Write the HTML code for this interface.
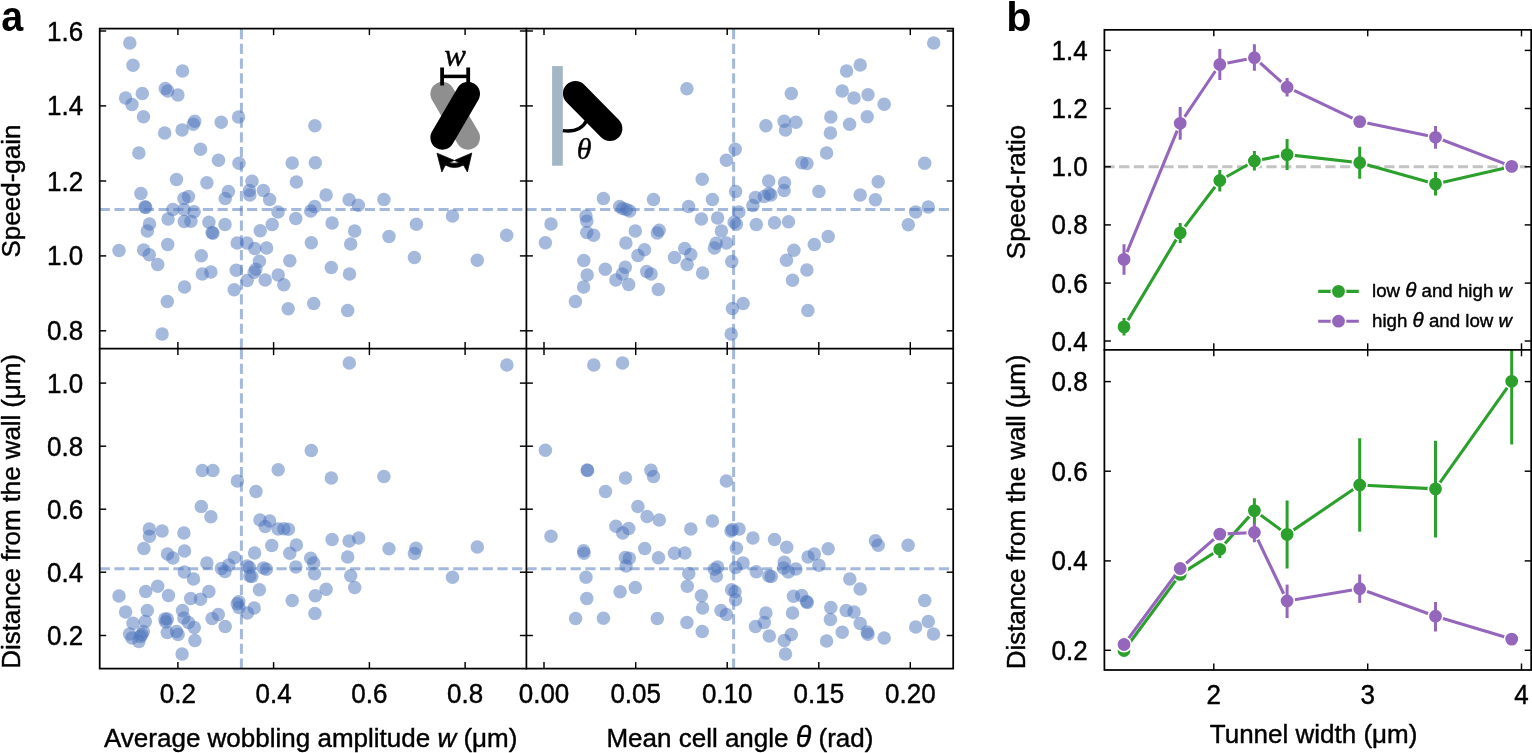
<!DOCTYPE html>
<html lang="en">
<head>
<meta charset="utf-8">
<title>Figure: speed-gain and wall distance</title>
<style>
html,body{margin:0;padding:0;background:#fff}
body{width:1532px;height:753px;overflow:hidden}
svg{display:block}
.pts circle{fill:#4b74bb;fill-opacity:.5}
.guide line{stroke:#4b74bb;stroke-opacity:.5;stroke-width:3.0;stroke-dasharray:10.2 4.53;fill:none}
.fr{stroke:#000;stroke-width:1.75;fill:none;stroke-linecap:square}
.tk{stroke:#000;stroke-width:1.45}
.ln{stroke-width:3.1;fill:none;stroke-linejoin:round}
.eb{stroke-width:3}
.mk{stroke:#fff;stroke-width:1.6}
text{font-family:"Liberation Sans", sans-serif;fill:#000;stroke:#000;stroke-width:.42px;stroke-linejoin:round}
.tl{font-size:26px}
.lg{font-size:18.7px}
.th{font-style:italic;font-size:1.1em}
.vd{letter-spacing:-.09px}
.pl{font-size:41.5px;font-weight:bold;stroke:none}
.it{font-style:italic}
.mi{font-family:"Liberation Serif", "DejaVu Serif", serif;font-style:italic}
</style>
</head>
<body>
<svg role="img" aria-label="Scatter plots of speed-gain and wall distance against wobbling amplitude and cell angle, and line plots against tunnel width" width="1532" height="753" viewBox="0 0 1532 753">
<rect width="1532" height="753" fill="#fff"/>
<defs>
<clipPath id="cTL"><rect x="99.7" y="28.6" width="426.7" height="320"/></clipPath>
<clipPath id="cTR"><rect x="526.4" y="28.6" width="426.8" height="320"/></clipPath>
<clipPath id="cBL"><rect x="99.7" y="348.6" width="426.7" height="320"/></clipPath>
<clipPath id="cBR"><rect x="526.4" y="348.6" width="426.8" height="320"/></clipPath>
<clipPath id="cbT"><rect x="1104.4" y="29.85" width="426.8" height="319.95"/></clipPath>
<clipPath id="cbB"><rect x="1104.4" y="349.8" width="426.8" height="320.2"/></clipPath>
</defs>
<g class="pts" clip-path="url(#cTL)">
<circle cx="129.8" cy="43" r="6.75"/>
<circle cx="133" cy="65.2" r="6.75"/>
<circle cx="182.5" cy="71.1" r="6.75"/>
<circle cx="165.3" cy="88.5" r="6.75"/>
<circle cx="167.7" cy="91.1" r="6.75"/>
<circle cx="177.9" cy="94.9" r="6.75"/>
<circle cx="142.3" cy="93.5" r="6.75"/>
<circle cx="125.6" cy="98.1" r="6.75"/>
<circle cx="132" cy="104.5" r="6.75"/>
<circle cx="143.5" cy="116.7" r="6.75"/>
<circle cx="194.7" cy="121.3" r="6.75"/>
<circle cx="193.3" cy="124.3" r="6.75"/>
<circle cx="221.2" cy="122.3" r="6.75"/>
<circle cx="238.6" cy="116.9" r="6.75"/>
<circle cx="182.1" cy="130.1" r="6.75"/>
<circle cx="164.7" cy="133.1" r="6.75"/>
<circle cx="314.9" cy="125.7" r="6.75"/>
<circle cx="138.9" cy="153" r="6.75"/>
<circle cx="200.5" cy="149.3" r="6.75"/>
<circle cx="218.5" cy="160.2" r="6.75"/>
<circle cx="239" cy="163.2" r="6.75"/>
<circle cx="292.2" cy="163" r="6.75"/>
<circle cx="315.3" cy="162.8" r="6.75"/>
<circle cx="176.5" cy="179.4" r="6.75"/>
<circle cx="206.9" cy="182.8" r="6.75"/>
<circle cx="252" cy="181.2" r="6.75"/>
<circle cx="296.4" cy="182" r="6.75"/>
<circle cx="140.9" cy="193.4" r="6.75"/>
<circle cx="228.4" cy="191.6" r="6.75"/>
<circle cx="249.4" cy="190.6" r="6.75"/>
<circle cx="249.8" cy="195" r="6.75"/>
<circle cx="263.4" cy="190.6" r="6.75"/>
<circle cx="269.6" cy="199.6" r="6.75"/>
<circle cx="188.5" cy="196.6" r="6.75"/>
<circle cx="183.9" cy="198.6" r="6.75"/>
<circle cx="225.2" cy="198.6" r="6.75"/>
<circle cx="326.1" cy="195" r="6.75"/>
<circle cx="349.1" cy="199.8" r="6.75"/>
<circle cx="358.3" cy="205.2" r="6.75"/>
<circle cx="383.9" cy="199.4" r="6.75"/>
<circle cx="145.1" cy="206.8" r="6.75"/>
<circle cx="145.7" cy="207.4" r="6.75"/>
<circle cx="172.9" cy="209.6" r="6.75"/>
<circle cx="184.1" cy="209.4" r="6.75"/>
<circle cx="194.1" cy="211.7" r="6.75"/>
<circle cx="314.7" cy="206.6" r="6.75"/>
<circle cx="310.7" cy="211" r="6.75"/>
<circle cx="278" cy="212.1" r="6.75"/>
<circle cx="168.1" cy="218.9" r="6.75"/>
<circle cx="184.3" cy="221.5" r="6.75"/>
<circle cx="190.9" cy="221.3" r="6.75"/>
<circle cx="208.9" cy="222.3" r="6.75"/>
<circle cx="225" cy="224.5" r="6.75"/>
<circle cx="295.8" cy="218.5" r="6.75"/>
<circle cx="332.1" cy="222.9" r="6.75"/>
<circle cx="272.2" cy="224.5" r="6.75"/>
<circle cx="149.5" cy="223.9" r="6.75"/>
<circle cx="147.3" cy="230.9" r="6.75"/>
<circle cx="212.1" cy="232.5" r="6.75"/>
<circle cx="212.9" cy="233.3" r="6.75"/>
<circle cx="260.2" cy="230.7" r="6.75"/>
<circle cx="354.7" cy="231.1" r="6.75"/>
<circle cx="389" cy="236.5" r="6.75"/>
<circle cx="167.7" cy="244.5" r="6.75"/>
<circle cx="237.2" cy="243.1" r="6.75"/>
<circle cx="247" cy="243.1" r="6.75"/>
<circle cx="254.8" cy="248.5" r="6.75"/>
<circle cx="266.6" cy="247.9" r="6.75"/>
<circle cx="311.3" cy="242.7" r="6.75"/>
<circle cx="350.7" cy="243.9" r="6.75"/>
<circle cx="119" cy="250.5" r="6.75"/>
<circle cx="143.7" cy="249.9" r="6.75"/>
<circle cx="149.3" cy="254.7" r="6.75"/>
<circle cx="201.3" cy="255.7" r="6.75"/>
<circle cx="157.7" cy="264.5" r="6.75"/>
<circle cx="259.4" cy="261.3" r="6.75"/>
<circle cx="289.8" cy="260.7" r="6.75"/>
<circle cx="331.3" cy="267.5" r="6.75"/>
<circle cx="349.5" cy="274.1" r="6.75"/>
<circle cx="202.3" cy="273.9" r="6.75"/>
<circle cx="210.9" cy="272.1" r="6.75"/>
<circle cx="236.2" cy="270.3" r="6.75"/>
<circle cx="255.8" cy="269.3" r="6.75"/>
<circle cx="254.2" cy="272.3" r="6.75"/>
<circle cx="278.2" cy="275.1" r="6.75"/>
<circle cx="247.2" cy="280.5" r="6.75"/>
<circle cx="265.2" cy="279.9" r="6.75"/>
<circle cx="283.8" cy="284.7" r="6.75"/>
<circle cx="184.5" cy="286.9" r="6.75"/>
<circle cx="234.2" cy="289.7" r="6.75"/>
<circle cx="167.3" cy="301.6" r="6.75"/>
<circle cx="288.2" cy="308.8" r="6.75"/>
<circle cx="313.7" cy="303.4" r="6.75"/>
<circle cx="347.7" cy="310.4" r="6.75"/>
<circle cx="162.1" cy="334" r="6.75"/>
<circle cx="416.4" cy="224.3" r="6.75"/>
<circle cx="452.5" cy="216.1" r="6.75"/>
<circle cx="506.7" cy="235.3" r="6.75"/>
<circle cx="414.4" cy="257.5" r="6.75"/>
<circle cx="477.3" cy="260.3" r="6.75"/>
</g>
<g class="pts" clip-path="url(#cTR)">
<circle cx="686.9" cy="88.7" r="6.75"/>
<circle cx="551" cy="223.9" r="6.75"/>
<circle cx="545.4" cy="242.7" r="6.75"/>
<circle cx="603.4" cy="198.6" r="6.75"/>
<circle cx="586" cy="215.9" r="6.75"/>
<circle cx="586.8" cy="221.3" r="6.75"/>
<circle cx="586.8" cy="232.5" r="6.75"/>
<circle cx="593.6" cy="235.3" r="6.75"/>
<circle cx="619.7" cy="206.4" r="6.75"/>
<circle cx="622.7" cy="208.6" r="6.75"/>
<circle cx="626.3" cy="209.4" r="6.75"/>
<circle cx="629.7" cy="211" r="6.75"/>
<circle cx="653.5" cy="199.4" r="6.75"/>
<circle cx="688.6" cy="206.4" r="6.75"/>
<circle cx="635.3" cy="231.1" r="6.75"/>
<circle cx="659.1" cy="230.3" r="6.75"/>
<circle cx="657.3" cy="233.1" r="6.75"/>
<circle cx="625.9" cy="243.1" r="6.75"/>
<circle cx="644.5" cy="249.7" r="6.75"/>
<circle cx="637.9" cy="255.5" r="6.75"/>
<circle cx="684.7" cy="248.5" r="6.75"/>
<circle cx="690.8" cy="254.5" r="6.75"/>
<circle cx="674.5" cy="257.5" r="6.75"/>
<circle cx="687.1" cy="264.5" r="6.75"/>
<circle cx="583.8" cy="260.5" r="6.75"/>
<circle cx="605.3" cy="269.3" r="6.75"/>
<circle cx="625.3" cy="267.3" r="6.75"/>
<circle cx="622.3" cy="273.9" r="6.75"/>
<circle cx="615.9" cy="279.9" r="6.75"/>
<circle cx="628.7" cy="284.5" r="6.75"/>
<circle cx="646.7" cy="271.5" r="6.75"/>
<circle cx="651.1" cy="273.9" r="6.75"/>
<circle cx="658.3" cy="289.5" r="6.75"/>
<circle cx="587.2" cy="275.1" r="6.75"/>
<circle cx="583.6" cy="286.9" r="6.75"/>
<circle cx="575.4" cy="301.4" r="6.75"/>
<circle cx="933.7" cy="43" r="6.75"/>
<circle cx="860.2" cy="65" r="6.75"/>
<circle cx="846.6" cy="70.9" r="6.75"/>
<circle cx="791.3" cy="93.5" r="6.75"/>
<circle cx="842.2" cy="90.9" r="6.75"/>
<circle cx="854" cy="98.1" r="6.75"/>
<circle cx="868" cy="94.7" r="6.75"/>
<circle cx="884.2" cy="104.3" r="6.75"/>
<circle cx="830.8" cy="116.9" r="6.75"/>
<circle cx="867.2" cy="116.7" r="6.75"/>
<circle cx="849.6" cy="124.3" r="6.75"/>
<circle cx="830.4" cy="133.1" r="6.75"/>
<circle cx="784.1" cy="121.3" r="6.75"/>
<circle cx="795.9" cy="122.3" r="6.75"/>
<circle cx="785.5" cy="129.9" r="6.75"/>
<circle cx="765.9" cy="125.7" r="6.75"/>
<circle cx="735.2" cy="149.3" r="6.75"/>
<circle cx="726.4" cy="160.2" r="6.75"/>
<circle cx="826.6" cy="153" r="6.75"/>
<circle cx="801.9" cy="162.8" r="6.75"/>
<circle cx="806.9" cy="163.4" r="6.75"/>
<circle cx="924.7" cy="163.2" r="6.75"/>
<circle cx="702.2" cy="179.2" r="6.75"/>
<circle cx="768.7" cy="181" r="6.75"/>
<circle cx="784.5" cy="182.8" r="6.75"/>
<circle cx="878.2" cy="181.8" r="6.75"/>
<circle cx="735.6" cy="191.4" r="6.75"/>
<circle cx="784.1" cy="190.6" r="6.75"/>
<circle cx="818.9" cy="191.6" r="6.75"/>
<circle cx="860.2" cy="195" r="6.75"/>
<circle cx="875.4" cy="199.8" r="6.75"/>
<circle cx="712.4" cy="199.4" r="6.75"/>
<circle cx="755.5" cy="197.6" r="6.75"/>
<circle cx="764.3" cy="196.6" r="6.75"/>
<circle cx="768.9" cy="193.4" r="6.75"/>
<circle cx="770.9" cy="195" r="6.75"/>
<circle cx="752.9" cy="205.4" r="6.75"/>
<circle cx="928.3" cy="207" r="6.75"/>
<circle cx="915.7" cy="212" r="6.75"/>
<circle cx="738.9" cy="212" r="6.75"/>
<circle cx="701.4" cy="218.9" r="6.75"/>
<circle cx="717.6" cy="218.1" r="6.75"/>
<circle cx="734.2" cy="222.3" r="6.75"/>
<circle cx="736.4" cy="224.3" r="6.75"/>
<circle cx="756.3" cy="224.5" r="6.75"/>
<circle cx="774.5" cy="222.7" r="6.75"/>
<circle cx="788.5" cy="221.7" r="6.75"/>
<circle cx="908.3" cy="224.7" r="6.75"/>
<circle cx="721.4" cy="230.9" r="6.75"/>
<circle cx="828.2" cy="236.5" r="6.75"/>
<circle cx="716.2" cy="243.3" r="6.75"/>
<circle cx="714.4" cy="247.9" r="6.75"/>
<circle cx="726.4" cy="242.9" r="6.75"/>
<circle cx="814.3" cy="244.5" r="6.75"/>
<circle cx="793.9" cy="250.3" r="6.75"/>
<circle cx="731.8" cy="261.5" r="6.75"/>
<circle cx="786.5" cy="260.3" r="6.75"/>
<circle cx="806.9" cy="270.1" r="6.75"/>
<circle cx="702.6" cy="272.9" r="6.75"/>
<circle cx="792.5" cy="280.3" r="6.75"/>
<circle cx="743.1" cy="303.4" r="6.75"/>
<circle cx="732.4" cy="308.6" r="6.75"/>
<circle cx="807.9" cy="310.4" r="6.75"/>
<circle cx="731.2" cy="334" r="6.75"/>
</g>
<g class="pts" clip-path="url(#cBL)">
<circle cx="349.3" cy="362.9" r="6.75"/>
<circle cx="311.3" cy="450.4" r="6.75"/>
<circle cx="202.3" cy="470.4" r="6.75"/>
<circle cx="212.9" cy="470.6" r="6.75"/>
<circle cx="278.2" cy="469.8" r="6.75"/>
<circle cx="331.3" cy="478" r="6.75"/>
<circle cx="383.9" cy="476.4" r="6.75"/>
<circle cx="237.4" cy="481" r="6.75"/>
<circle cx="256" cy="491.6" r="6.75"/>
<circle cx="201.3" cy="506.5" r="6.75"/>
<circle cx="210.9" cy="516.7" r="6.75"/>
<circle cx="260" cy="519.9" r="6.75"/>
<circle cx="269.6" cy="520.9" r="6.75"/>
<circle cx="265.2" cy="526.5" r="6.75"/>
<circle cx="278.2" cy="528.9" r="6.75"/>
<circle cx="283.8" cy="528.7" r="6.75"/>
<circle cx="288.4" cy="529.3" r="6.75"/>
<circle cx="149.3" cy="529.1" r="6.75"/>
<circle cx="149.5" cy="536.3" r="6.75"/>
<circle cx="162.1" cy="531.1" r="6.75"/>
<circle cx="183.9" cy="532.9" r="6.75"/>
<circle cx="332.1" cy="539.5" r="6.75"/>
<circle cx="349.1" cy="540.9" r="6.75"/>
<circle cx="358.7" cy="538.1" r="6.75"/>
<circle cx="389" cy="548.7" r="6.75"/>
<circle cx="143.9" cy="548.5" r="6.75"/>
<circle cx="184.5" cy="550.9" r="6.75"/>
<circle cx="167.5" cy="553.9" r="6.75"/>
<circle cx="172.9" cy="557.9" r="6.75"/>
<circle cx="271.8" cy="545.5" r="6.75"/>
<circle cx="296.4" cy="544.9" r="6.75"/>
<circle cx="289.8" cy="553.3" r="6.75"/>
<circle cx="254.6" cy="553.1" r="6.75"/>
<circle cx="234.4" cy="557.5" r="6.75"/>
<circle cx="310.7" cy="558.3" r="6.75"/>
<circle cx="313.7" cy="563.1" r="6.75"/>
<circle cx="347.7" cy="557.1" r="6.75"/>
<circle cx="206.9" cy="562.9" r="6.75"/>
<circle cx="228.8" cy="565.1" r="6.75"/>
<circle cx="221.4" cy="568.5" r="6.75"/>
<circle cx="225" cy="571.5" r="6.75"/>
<circle cx="247.2" cy="565.9" r="6.75"/>
<circle cx="249.4" cy="567.5" r="6.75"/>
<circle cx="249.8" cy="575.9" r="6.75"/>
<circle cx="251.8" cy="576.5" r="6.75"/>
<circle cx="263.4" cy="568.1" r="6.75"/>
<circle cx="266.4" cy="569.3" r="6.75"/>
<circle cx="295.8" cy="566.9" r="6.75"/>
<circle cx="314.5" cy="573.7" r="6.75"/>
<circle cx="350.7" cy="575.7" r="6.75"/>
<circle cx="184.3" cy="571.9" r="6.75"/>
<circle cx="193.5" cy="579.1" r="6.75"/>
<circle cx="354.7" cy="587.6" r="6.75"/>
<circle cx="326.1" cy="589.2" r="6.75"/>
<circle cx="259.4" cy="589.8" r="6.75"/>
<circle cx="157.7" cy="586.2" r="6.75"/>
<circle cx="145.7" cy="591.6" r="6.75"/>
<circle cx="208.9" cy="591.6" r="6.75"/>
<circle cx="119" cy="596" r="6.75"/>
<circle cx="168.5" cy="595.6" r="6.75"/>
<circle cx="315.3" cy="595.8" r="6.75"/>
<circle cx="190.7" cy="598.4" r="6.75"/>
<circle cx="200.5" cy="599.2" r="6.75"/>
<circle cx="292.2" cy="600.4" r="6.75"/>
<circle cx="238.8" cy="601.8" r="6.75"/>
<circle cx="237.2" cy="603.8" r="6.75"/>
<circle cx="239" cy="607.5" r="6.75"/>
<circle cx="254.2" cy="608" r="6.75"/>
<circle cx="247.4" cy="613" r="6.75"/>
<circle cx="314.9" cy="613.4" r="6.75"/>
<circle cx="125.6" cy="612" r="6.75"/>
<circle cx="147.3" cy="610.4" r="6.75"/>
<circle cx="182.5" cy="610.4" r="6.75"/>
<circle cx="218.3" cy="614.6" r="6.75"/>
<circle cx="212.1" cy="618.6" r="6.75"/>
<circle cx="225.2" cy="626.4" r="6.75"/>
<circle cx="133" cy="623.2" r="6.75"/>
<circle cx="145.3" cy="621.4" r="6.75"/>
<circle cx="164.9" cy="619" r="6.75"/>
<circle cx="167.3" cy="619" r="6.75"/>
<circle cx="165.9" cy="622" r="6.75"/>
<circle cx="183.9" cy="618" r="6.75"/>
<circle cx="188.5" cy="622.4" r="6.75"/>
<circle cx="194.3" cy="627.4" r="6.75"/>
<circle cx="167.3" cy="632.4" r="6.75"/>
<circle cx="176.5" cy="631.6" r="6.75"/>
<circle cx="178.1" cy="634.4" r="6.75"/>
<circle cx="194.9" cy="640.6" r="6.75"/>
<circle cx="182.1" cy="654" r="6.75"/>
<circle cx="129.6" cy="634" r="6.75"/>
<circle cx="132" cy="638" r="6.75"/>
<circle cx="143.3" cy="631.4" r="6.75"/>
<circle cx="141.9" cy="634.6" r="6.75"/>
<circle cx="140.5" cy="636.6" r="6.75"/>
<circle cx="138.9" cy="641.4" r="6.75"/>
<circle cx="506.9" cy="364.9" r="6.75"/>
<circle cx="416" cy="548.3" r="6.75"/>
<circle cx="414.4" cy="553.5" r="6.75"/>
<circle cx="477.3" cy="547.1" r="6.75"/>
<circle cx="452.5" cy="577.3" r="6.75"/>
</g>
<g class="pts" clip-path="url(#cBR)">
<circle cx="593.8" cy="364.9" r="6.75"/>
<circle cx="622.5" cy="362.9" r="6.75"/>
<circle cx="545.4" cy="450.2" r="6.75"/>
<circle cx="587.2" cy="470" r="6.75"/>
<circle cx="587.6" cy="470.4" r="6.75"/>
<circle cx="650.9" cy="470.2" r="6.75"/>
<circle cx="653.5" cy="476.4" r="6.75"/>
<circle cx="625.5" cy="478" r="6.75"/>
<circle cx="605.5" cy="491.6" r="6.75"/>
<circle cx="637.9" cy="506.5" r="6.75"/>
<circle cx="647.1" cy="516.5" r="6.75"/>
<circle cx="659.3" cy="519.9" r="6.75"/>
<circle cx="615.9" cy="526.3" r="6.75"/>
<circle cx="628.7" cy="528.5" r="6.75"/>
<circle cx="622.7" cy="532.9" r="6.75"/>
<circle cx="690.8" cy="529.1" r="6.75"/>
<circle cx="551" cy="536.3" r="6.75"/>
<circle cx="583.6" cy="550.7" r="6.75"/>
<circle cx="584" cy="553.3" r="6.75"/>
<circle cx="644.7" cy="548.5" r="6.75"/>
<circle cx="674.5" cy="553.3" r="6.75"/>
<circle cx="684.9" cy="553.1" r="6.75"/>
<circle cx="658.5" cy="557.7" r="6.75"/>
<circle cx="625.3" cy="557.5" r="6.75"/>
<circle cx="629.3" cy="558.3" r="6.75"/>
<circle cx="626.1" cy="566.1" r="6.75"/>
<circle cx="688.8" cy="573.5" r="6.75"/>
<circle cx="586" cy="577.3" r="6.75"/>
<circle cx="635.3" cy="587.4" r="6.75"/>
<circle cx="687.3" cy="586.2" r="6.75"/>
<circle cx="620.1" cy="591.8" r="6.75"/>
<circle cx="586.8" cy="598.4" r="6.75"/>
<circle cx="575.6" cy="618.4" r="6.75"/>
<circle cx="603.4" cy="618.2" r="6.75"/>
<circle cx="657.3" cy="618.6" r="6.75"/>
<circle cx="686.9" cy="622.6" r="6.75"/>
<circle cx="726.4" cy="481" r="6.75"/>
<circle cx="712.4" cy="520.9" r="6.75"/>
<circle cx="731" cy="530.9" r="6.75"/>
<circle cx="732.4" cy="529.5" r="6.75"/>
<circle cx="739.1" cy="528.9" r="6.75"/>
<circle cx="752.9" cy="537.9" r="6.75"/>
<circle cx="774.5" cy="539.5" r="6.75"/>
<circle cx="786.7" cy="547.3" r="6.75"/>
<circle cx="736.4" cy="548.3" r="6.75"/>
<circle cx="828.2" cy="548.7" r="6.75"/>
<circle cx="875.4" cy="540.7" r="6.75"/>
<circle cx="878.2" cy="545.3" r="6.75"/>
<circle cx="908.1" cy="545.3" r="6.75"/>
<circle cx="814.3" cy="554.1" r="6.75"/>
<circle cx="808.1" cy="557.1" r="6.75"/>
<circle cx="818.9" cy="565.3" r="6.75"/>
<circle cx="743.1" cy="563.1" r="6.75"/>
<circle cx="735.6" cy="567.5" r="6.75"/>
<circle cx="717.6" cy="566.9" r="6.75"/>
<circle cx="714.4" cy="569.3" r="6.75"/>
<circle cx="716.4" cy="575.9" r="6.75"/>
<circle cx="784.3" cy="562.3" r="6.75"/>
<circle cx="783.5" cy="567.9" r="6.75"/>
<circle cx="788.3" cy="571.9" r="6.75"/>
<circle cx="795.9" cy="568.9" r="6.75"/>
<circle cx="756.3" cy="571.7" r="6.75"/>
<circle cx="768.9" cy="575.9" r="6.75"/>
<circle cx="771.3" cy="576.5" r="6.75"/>
<circle cx="849.8" cy="578.9" r="6.75"/>
<circle cx="860.2" cy="589" r="6.75"/>
<circle cx="731.6" cy="589.8" r="6.75"/>
<circle cx="735" cy="591.8" r="6.75"/>
<circle cx="701.4" cy="595.8" r="6.75"/>
<circle cx="735.6" cy="599.8" r="6.75"/>
<circle cx="793.5" cy="596.2" r="6.75"/>
<circle cx="801.7" cy="595.4" r="6.75"/>
<circle cx="806.5" cy="601.6" r="6.75"/>
<circle cx="807.3" cy="602.6" r="6.75"/>
<circle cx="924.7" cy="600.4" r="6.75"/>
<circle cx="702.6" cy="608" r="6.75"/>
<circle cx="721" cy="610.4" r="6.75"/>
<circle cx="726.4" cy="614.4" r="6.75"/>
<circle cx="765.9" cy="613" r="6.75"/>
<circle cx="792.5" cy="613" r="6.75"/>
<circle cx="830.8" cy="607.6" r="6.75"/>
<circle cx="846.2" cy="610.4" r="6.75"/>
<circle cx="854" cy="612" r="6.75"/>
<circle cx="830.4" cy="619.4" r="6.75"/>
<circle cx="764.3" cy="622.6" r="6.75"/>
<circle cx="755.5" cy="626.4" r="6.75"/>
<circle cx="860.2" cy="623.4" r="6.75"/>
<circle cx="928.3" cy="621.4" r="6.75"/>
<circle cx="915.7" cy="627.1" r="6.75"/>
<circle cx="702.2" cy="631.5" r="6.75"/>
<circle cx="769.3" cy="635.9" r="6.75"/>
<circle cx="791.3" cy="634.5" r="6.75"/>
<circle cx="784.3" cy="640.5" r="6.75"/>
<circle cx="842.2" cy="632.3" r="6.75"/>
<circle cx="867.2" cy="631.9" r="6.75"/>
<circle cx="868" cy="634.3" r="6.75"/>
<circle cx="884.2" cy="638.1" r="6.75"/>
<circle cx="933.5" cy="634.1" r="6.75"/>
<circle cx="826.6" cy="641.1" r="6.75"/>
<circle cx="785.5" cy="653.9" r="6.75"/>
</g>
<g class="guide">
<line class="g" x1="99.7" y1="209.55" x2="526.4" y2="209.55"/>
<line class="g" x1="99.7" y1="568.7" x2="526.4" y2="568.7"/>
<line class="g" x1="526.4" y1="209.55" x2="953.2" y2="209.55"/>
<line class="g" x1="526.4" y1="568.7" x2="953.2" y2="568.7"/>
<line class="g" x1="241.4" y1="348.6" x2="241.4" y2="28.6"/>
<line class="g" x1="241.4" y1="668.6" x2="241.4" y2="348.6"/>
<line class="g" x1="733.6" y1="348.6" x2="733.6" y2="28.6"/>
<line class="g" x1="733.6" y1="668.6" x2="733.6" y2="348.6"/>
</g>
<g class="icon">
<line x1="442.4" y1="93.9" x2="468" y2="137.6" stroke="#8f8f8f" stroke-width="24" stroke-linecap="round"/>
<line x1="468" y1="93.9" x2="442.4" y2="137.6" stroke="#000" stroke-width="24" stroke-linecap="round"/>
<path d="M442.1 67.5V85.5M468.2 67.5V85.5" stroke="#000" stroke-width="3.8" fill="none"/>
<path d="M442.1 76.4H468.2" stroke="#000" stroke-width="3.5" fill="none"/>
<path d="M436.97 153.13L454.4 160.43L449.05 162.38L445.33 165.07L441.85 172.04ZM471.82 152.99L454.4 160.43L459.37 162.38L463.46 165.07L467.41 172.04Z" fill="#000" stroke="#000" stroke-width=".7" stroke-linejoin="miter"/>
<path d="M445.33 165.07Q454.4 170.09 463.46 165.07L459.37 162.38Q454.4 164.05 449.05 162.38Z" fill="#000" stroke="#000" stroke-width=".7"/>
<text class="mi" x="455.1" y="65.8" text-anchor="middle" style="font-size:32.5px">w</text>
<rect x="552.1" y="66.1" width="10.7" height="99.6" fill="#a2b6c4"/>
<line x1="575.4" y1="93.5" x2="609.9" y2="128.6" stroke="#000" stroke-width="24.9" stroke-linecap="round"/>
<path d="M562.8 130.6Q580.6 132.8 586.8 120.2" stroke="#000" stroke-width="3.4" fill="none"/>
<text class="mi" x="584" y="158.5" text-anchor="middle" style="font-size:30px">&#952;</text>
</g>
<g class="ax">
<rect class="fr" x="99.7" y="28.6" width="853.5" height="640"/>
<line class="fr" x1="526.4" y1="28.6" x2="526.4" y2="668.6"/>
<line class="fr" x1="99.7" y1="348.6" x2="953.2" y2="348.6"/>
<line class="tk" x1="177.9" y1="28.6" x2="177.9" y2="35.1"/>
<line class="tk" x1="177.9" y1="342.1" x2="177.9" y2="355.1"/>
<line class="tk" x1="177.9" y1="668.6" x2="177.9" y2="662.1"/>
<line class="tk" x1="273.6" y1="28.6" x2="273.6" y2="35.1"/>
<line class="tk" x1="273.6" y1="342.1" x2="273.6" y2="355.1"/>
<line class="tk" x1="273.6" y1="668.6" x2="273.6" y2="662.1"/>
<line class="tk" x1="369.4" y1="28.6" x2="369.4" y2="35.1"/>
<line class="tk" x1="369.4" y1="342.1" x2="369.4" y2="355.1"/>
<line class="tk" x1="369.4" y1="668.6" x2="369.4" y2="662.1"/>
<line class="tk" x1="465.1" y1="28.6" x2="465.1" y2="35.1"/>
<line class="tk" x1="465.1" y1="342.1" x2="465.1" y2="355.1"/>
<line class="tk" x1="465.1" y1="668.6" x2="465.1" y2="662.1"/>
<line class="tk" x1="544" y1="28.6" x2="544" y2="35.1"/>
<line class="tk" x1="544" y1="342.1" x2="544" y2="355.1"/>
<line class="tk" x1="544" y1="668.6" x2="544" y2="662.1"/>
<line class="tk" x1="635.7" y1="28.6" x2="635.7" y2="35.1"/>
<line class="tk" x1="635.7" y1="342.1" x2="635.7" y2="355.1"/>
<line class="tk" x1="635.7" y1="668.6" x2="635.7" y2="662.1"/>
<line class="tk" x1="727.2" y1="28.6" x2="727.2" y2="35.1"/>
<line class="tk" x1="727.2" y1="342.1" x2="727.2" y2="355.1"/>
<line class="tk" x1="727.2" y1="668.6" x2="727.2" y2="662.1"/>
<line class="tk" x1="818.8" y1="28.6" x2="818.8" y2="35.1"/>
<line class="tk" x1="818.8" y1="342.1" x2="818.8" y2="355.1"/>
<line class="tk" x1="818.8" y1="668.6" x2="818.8" y2="662.1"/>
<line class="tk" x1="910.3" y1="28.6" x2="910.3" y2="35.1"/>
<line class="tk" x1="910.3" y1="342.1" x2="910.3" y2="355.1"/>
<line class="tk" x1="910.3" y1="668.6" x2="910.3" y2="662.1"/>
<line class="tk" x1="99.7" y1="31" x2="106.2" y2="31"/>
<line class="tk" x1="519.9" y1="31" x2="532.9" y2="31"/>
<line class="tk" x1="953.2" y1="31" x2="946.7" y2="31"/>
<line class="tk" x1="99.7" y1="105.9" x2="106.2" y2="105.9"/>
<line class="tk" x1="519.9" y1="105.9" x2="532.9" y2="105.9"/>
<line class="tk" x1="953.2" y1="105.9" x2="946.7" y2="105.9"/>
<line class="tk" x1="99.7" y1="181" x2="106.2" y2="181"/>
<line class="tk" x1="519.9" y1="181" x2="532.9" y2="181"/>
<line class="tk" x1="953.2" y1="181" x2="946.7" y2="181"/>
<line class="tk" x1="99.7" y1="255.9" x2="106.2" y2="255.9"/>
<line class="tk" x1="519.9" y1="255.9" x2="532.9" y2="255.9"/>
<line class="tk" x1="953.2" y1="255.9" x2="946.7" y2="255.9"/>
<line class="tk" x1="99.7" y1="330.8" x2="106.2" y2="330.8"/>
<line class="tk" x1="519.9" y1="330.8" x2="532.9" y2="330.8"/>
<line class="tk" x1="953.2" y1="330.8" x2="946.7" y2="330.8"/>
<line class="tk" x1="99.7" y1="383.1" x2="106.2" y2="383.1"/>
<line class="tk" x1="519.9" y1="383.1" x2="532.9" y2="383.1"/>
<line class="tk" x1="953.2" y1="383.1" x2="946.7" y2="383.1"/>
<line class="tk" x1="99.7" y1="446.2" x2="106.2" y2="446.2"/>
<line class="tk" x1="519.9" y1="446.2" x2="532.9" y2="446.2"/>
<line class="tk" x1="953.2" y1="446.2" x2="946.7" y2="446.2"/>
<line class="tk" x1="99.7" y1="509.2" x2="106.2" y2="509.2"/>
<line class="tk" x1="519.9" y1="509.2" x2="532.9" y2="509.2"/>
<line class="tk" x1="953.2" y1="509.2" x2="946.7" y2="509.2"/>
<line class="tk" x1="99.7" y1="572.2" x2="106.2" y2="572.2"/>
<line class="tk" x1="519.9" y1="572.2" x2="532.9" y2="572.2"/>
<line class="tk" x1="953.2" y1="572.2" x2="946.7" y2="572.2"/>
<line class="tk" x1="99.7" y1="635.5" x2="106.2" y2="635.5"/>
<line class="tk" x1="519.9" y1="635.5" x2="532.9" y2="635.5"/>
<line class="tk" x1="953.2" y1="635.5" x2="946.7" y2="635.5"/>
</g>
<g class="pb">
<line x1="1104.4" y1="166.8" x2="1531.2" y2="166.8" stroke="#c3c3c3" stroke-width="3" stroke-dasharray="10.2 4.53"/>
<g clip-path="url(#cbT)" stroke="#2ca02c" fill="#2ca02c">
<path class="ln" d="M1124 326.9L1180.2 232.9L1219.8 180.5L1254.4 161L1287.1 154.6L1359.7 162.7L1435.5 183.9L1511.7 166.4"/>
<circle class="mk" cx="1124" cy="326.9" r="7.2"/>
<circle class="mk" cx="1180.2" cy="232.9" r="7.2"/>
<circle class="mk" cx="1219.8" cy="180.5" r="7.2"/>
<circle class="mk" cx="1254.4" cy="161" r="7.2"/>
<circle class="mk" cx="1287.1" cy="154.6" r="7.2"/>
<circle class="mk" cx="1359.7" cy="162.7" r="7.2"/>
<circle class="mk" cx="1435.5" cy="183.9" r="7.2"/>
<circle class="mk" cx="1511.7" cy="166.4" r="7.2"/>
<line class="eb" x1="1124" y1="318" x2="1124" y2="335.5"/>
<line class="eb" x1="1180.2" y1="222.9" x2="1180.2" y2="242.9"/>
<line class="eb" x1="1219.8" y1="170" x2="1219.8" y2="191.5"/>
<line class="eb" x1="1254.4" y1="151" x2="1254.4" y2="170.5"/>
<line class="eb" x1="1287.1" y1="139" x2="1287.1" y2="170"/>
<line class="eb" x1="1359.7" y1="146.8" x2="1359.7" y2="178.7"/>
<line class="eb" x1="1435.5" y1="172.1" x2="1435.5" y2="195.6"/>
</g>
<g clip-path="url(#cbT)" stroke="#9467bd" fill="#9467bd">
<path class="ln" d="M1124 259.4L1180.2 123.3L1219.8 64.5L1254.4 57.7L1287.1 87.2L1359.7 121.6L1435.5 137.3L1511.7 166.4"/>
<circle class="mk" cx="1124" cy="259.4" r="7.2"/>
<circle class="mk" cx="1180.2" cy="123.3" r="7.2"/>
<circle class="mk" cx="1219.8" cy="64.5" r="7.2"/>
<circle class="mk" cx="1254.4" cy="57.7" r="7.2"/>
<circle class="mk" cx="1287.1" cy="87.2" r="7.2"/>
<circle class="mk" cx="1359.7" cy="121.6" r="7.2"/>
<circle class="mk" cx="1435.5" cy="137.3" r="7.2"/>
<circle class="mk" cx="1511.7" cy="166.4" r="7.2"/>
<line class="eb" x1="1124" y1="244.3" x2="1124" y2="274.8"/>
<line class="eb" x1="1180.2" y1="106.9" x2="1180.2" y2="139.8"/>
<line class="eb" x1="1219.8" y1="48.9" x2="1219.8" y2="79.9"/>
<line class="eb" x1="1254.4" y1="44.2" x2="1254.4" y2="70.7"/>
<line class="eb" x1="1287.1" y1="78.1" x2="1287.1" y2="96.6"/>
<line class="eb" x1="1435.5" y1="126" x2="1435.5" y2="148.7"/>
</g>
<g clip-path="url(#cbB)" stroke="#2ca02c" fill="#2ca02c">
<path class="ln" d="M1124 650.5L1180.2 574.4L1219.8 549.3L1254.4 510.6L1287.1 534.4L1359.7 485L1435.5 488.9L1511.7 381.3"/>
<circle class="mk" cx="1124" cy="650.5" r="7.2"/>
<circle class="mk" cx="1180.2" cy="574.4" r="7.2"/>
<circle class="mk" cx="1219.8" cy="549.3" r="7.2"/>
<circle class="mk" cx="1254.4" cy="510.6" r="7.2"/>
<circle class="mk" cx="1287.1" cy="534.4" r="7.2"/>
<circle class="mk" cx="1359.7" cy="485" r="7.2"/>
<circle class="mk" cx="1435.5" cy="488.9" r="7.2"/>
<circle class="mk" cx="1511.7" cy="381.3" r="7.2"/>
<line class="eb" x1="1219.8" y1="544" x2="1219.8" y2="558"/>
<line class="eb" x1="1254.4" y1="498.3" x2="1254.4" y2="523.5"/>
<line class="eb" x1="1287.1" y1="500.5" x2="1287.1" y2="568.5"/>
<line class="eb" x1="1359.7" y1="438.3" x2="1359.7" y2="531.7"/>
<line class="eb" x1="1435.5" y1="440.7" x2="1435.5" y2="537.5"/>
<line class="eb" x1="1511.7" y1="330" x2="1511.7" y2="444.5"/>
</g>
<g clip-path="url(#cbB)" stroke="#9467bd" fill="#9467bd">
<path class="ln" d="M1124 644.5L1180.2 568.5L1219.8 534.1L1254.4 532.5L1287.1 601L1359.7 588.7L1435.5 616.2L1511.7 639.1"/>
<circle class="mk" cx="1124" cy="644.5" r="7.2"/>
<circle class="mk" cx="1180.2" cy="568.5" r="7.2"/>
<circle class="mk" cx="1219.8" cy="534.1" r="7.2"/>
<circle class="mk" cx="1254.4" cy="532.5" r="7.2"/>
<circle class="mk" cx="1287.1" cy="601" r="7.2"/>
<circle class="mk" cx="1359.7" cy="588.7" r="7.2"/>
<circle class="mk" cx="1435.5" cy="616.2" r="7.2"/>
<circle class="mk" cx="1511.7" cy="639.1" r="7.2"/>
<line class="eb" x1="1254.4" y1="523" x2="1254.4" y2="542.3"/>
<line class="eb" x1="1287.1" y1="584.6" x2="1287.1" y2="618.1"/>
<line class="eb" x1="1359.7" y1="574.4" x2="1359.7" y2="602.9"/>
<line class="eb" x1="1435.5" y1="602" x2="1435.5" y2="631.5"/>
</g>
<g stroke="#2ca02c" fill="#2ca02c"><path class="ln" d="M1318.2 291.4H1358.8"/><circle class="mk" cx="1338.5" cy="291.4" r="7.2"/></g>
<g stroke="#9467bd" fill="#9467bd"><path class="ln" d="M1318.2 321.2H1358.8"/><circle class="mk" cx="1338.5" cy="321.2" r="7.2"/></g>
<text class="lg" x="1372" y="297.4">low <tspan class="th">&#952;</tspan> and high <tspan class="it">w</tspan></text>
<text class="lg" x="1372" y="327">high <tspan class="th">&#952;</tspan> and low <tspan class="it">w</tspan></text>
</g>
<g class="ax">
<rect class="fr" x="1104.4" y="29.85" width="426.8" height="640.15"/>
<line class="fr" x1="1104.4" y1="349.8" x2="1531.2" y2="349.8"/>
<line class="tk" x1="1213.8" y1="29.85" x2="1213.8" y2="36.35"/>
<line class="tk" x1="1213.8" y1="343.3" x2="1213.8" y2="356.3"/>
<line class="tk" x1="1213.8" y1="670" x2="1213.8" y2="663.5"/>
<line class="tk" x1="1367.7" y1="29.85" x2="1367.7" y2="36.35"/>
<line class="tk" x1="1367.7" y1="343.3" x2="1367.7" y2="356.3"/>
<line class="tk" x1="1367.7" y1="670" x2="1367.7" y2="663.5"/>
<line class="tk" x1="1521.5" y1="29.85" x2="1521.5" y2="36.35"/>
<line class="tk" x1="1521.5" y1="343.3" x2="1521.5" y2="356.3"/>
<line class="tk" x1="1521.5" y1="670" x2="1521.5" y2="663.5"/>
<line class="tk" x1="1104.4" y1="50.4" x2="1110.9" y2="50.4"/>
<line class="tk" x1="1531.2" y1="50.4" x2="1524.7" y2="50.4"/>
<line class="tk" x1="1104.4" y1="108.5" x2="1110.9" y2="108.5"/>
<line class="tk" x1="1531.2" y1="108.5" x2="1524.7" y2="108.5"/>
<line class="tk" x1="1104.4" y1="166.8" x2="1110.9" y2="166.8"/>
<line class="tk" x1="1531.2" y1="166.8" x2="1524.7" y2="166.8"/>
<line class="tk" x1="1104.4" y1="224.9" x2="1110.9" y2="224.9"/>
<line class="tk" x1="1531.2" y1="224.9" x2="1524.7" y2="224.9"/>
<line class="tk" x1="1104.4" y1="283.1" x2="1110.9" y2="283.1"/>
<line class="tk" x1="1531.2" y1="283.1" x2="1524.7" y2="283.1"/>
<line class="tk" x1="1104.4" y1="341" x2="1110.9" y2="341"/>
<line class="tk" x1="1531.2" y1="341" x2="1524.7" y2="341"/>
<line class="tk" x1="1104.4" y1="381.6" x2="1110.9" y2="381.6"/>
<line class="tk" x1="1531.2" y1="381.6" x2="1524.7" y2="381.6"/>
<line class="tk" x1="1104.4" y1="471.2" x2="1110.9" y2="471.2"/>
<line class="tk" x1="1531.2" y1="471.2" x2="1524.7" y2="471.2"/>
<line class="tk" x1="1104.4" y1="560.9" x2="1110.9" y2="560.9"/>
<line class="tk" x1="1531.2" y1="560.9" x2="1524.7" y2="560.9"/>
<line class="tk" x1="1104.4" y1="650.3" x2="1110.9" y2="650.3"/>
<line class="tk" x1="1531.2" y1="650.3" x2="1524.7" y2="650.3"/>
</g>
<g class="tx">
<text class="pl" transform="translate(1.2 30.9) scale(.91 1)" style="font-size:43.4px">a</text>
<text class="pl" x="1006.2" y="31">b</text>
<text class="tl" transform="translate(83.1 40.55) scale(1 1.035)" text-anchor="end">1.6</text>
<text class="tl" transform="translate(83.1 115.45) scale(1 1.035)" text-anchor="end">1.4</text>
<text class="tl" transform="translate(83.1 190.55) scale(1 1.035)" text-anchor="end">1.2</text>
<text class="tl" transform="translate(83.1 265.45) scale(1 1.035)" text-anchor="end">1.0</text>
<text class="tl" transform="translate(83.1 340.35) scale(1 1.035)" text-anchor="end">0.8</text>
<text class="tl" transform="translate(83.1 392.65) scale(1 1.035)" text-anchor="end">1.0</text>
<text class="tl" transform="translate(83.1 455.75) scale(1 1.035)" text-anchor="end">0.8</text>
<text class="tl" transform="translate(83.1 518.75) scale(1 1.035)" text-anchor="end">0.6</text>
<text class="tl" transform="translate(83.1 581.75) scale(1 1.035)" text-anchor="end">0.4</text>
<text class="tl" transform="translate(83.1 645.05) scale(1 1.035)" text-anchor="end">0.2</text>
<text class="tl" transform="translate(177.9 703.4) scale(1 1.035)" text-anchor="middle">0.2</text>
<text class="tl" transform="translate(273.6 703.4) scale(1 1.035)" text-anchor="middle">0.4</text>
<text class="tl" transform="translate(369.4 703.4) scale(1 1.035)" text-anchor="middle">0.6</text>
<text class="tl" transform="translate(465.1 703.4) scale(1 1.035)" text-anchor="middle">0.8</text>
<text class="tl" transform="translate(544 703.4) scale(1 1.035)" text-anchor="middle">0.00</text>
<text class="tl" transform="translate(635.7 703.4) scale(1 1.035)" text-anchor="middle">0.05</text>
<text class="tl" transform="translate(727.2 703.4) scale(1 1.035)" text-anchor="middle">0.10</text>
<text class="tl" transform="translate(818.8 703.4) scale(1 1.035)" text-anchor="middle">0.15</text>
<text class="tl" transform="translate(910.3 703.4) scale(1 1.035)" text-anchor="middle">0.20</text>
<text class="tl" transform="translate(1087.7 59.95) scale(1 1.035)" text-anchor="end">1.4</text>
<text class="tl" transform="translate(1087.7 118.05) scale(1 1.035)" text-anchor="end">1.2</text>
<text class="tl" transform="translate(1087.7 176.35) scale(1 1.035)" text-anchor="end">1.0</text>
<text class="tl" transform="translate(1087.7 234.45) scale(1 1.035)" text-anchor="end">0.8</text>
<text class="tl" transform="translate(1087.7 292.65) scale(1 1.035)" text-anchor="end">0.6</text>
<text class="tl" transform="translate(1087.7 350.55) scale(1 1.035)" text-anchor="end">0.4</text>
<text class="tl" transform="translate(1087.7 391.15) scale(1 1.035)" text-anchor="end">0.8</text>
<text class="tl" transform="translate(1087.7 480.75) scale(1 1.035)" text-anchor="end">0.6</text>
<text class="tl" transform="translate(1087.7 570.45) scale(1 1.035)" text-anchor="end">0.4</text>
<text class="tl" transform="translate(1087.7 659.85) scale(1 1.035)" text-anchor="end">0.2</text>
<text class="tl" transform="translate(1213.8 703.9) scale(1 1.035)" text-anchor="middle">2</text>
<text class="tl" transform="translate(1367.7 703.9) scale(1 1.035)" text-anchor="middle">3</text>
<text class="tl" transform="translate(1521.5 703.9) scale(1 1.035)" text-anchor="middle">4</text>
<text class="tl" x="310.7" y="746.6" text-anchor="middle">Average wobbling amplitude <tspan class="it">w</tspan> (&#956;m)</text>
<text class="tl" x="739.9" y="746.6" text-anchor="middle">Mean cell angle <tspan class="th">&#952;</tspan> (rad)</text>
<text class="tl" x="1313.6" y="743" text-anchor="middle">Tunnel width (&#956;m)</text>
<text class="tl" text-anchor="middle" transform="translate(20 191) rotate(-90)">Speed-gain</text>
<text class="tl vd" text-anchor="middle" transform="translate(20 511.4) rotate(-90)">Distance from the wall (&#956;m)</text>
<text class="tl" text-anchor="middle" transform="translate(1024.5 192) rotate(-90)">Speed-ratio</text>
<text class="tl vd" text-anchor="middle" transform="translate(1024.5 511.9) rotate(-90)">Distance from the wall (&#956;m)</text>
</g>
</svg>
</body>
</html>
